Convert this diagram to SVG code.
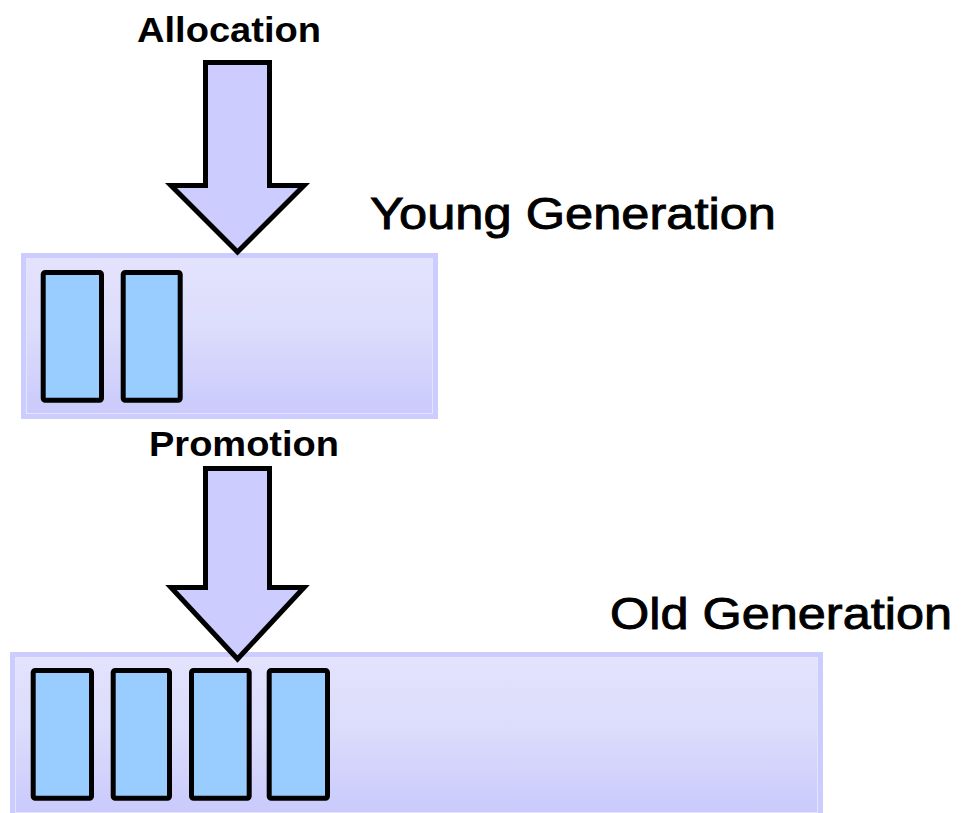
<svg xmlns="http://www.w3.org/2000/svg" width="961" height="813" viewBox="0 0 961 813">
<defs>
<linearGradient id="gen" x1="0" y1="0" x2="0" y2="1">
<stop offset="0" stop-color="#e3e3fd"/>
<stop offset="0.45" stop-color="#dcdcfc"/>
<stop offset="1" stop-color="#cacafc"/>
</linearGradient>
</defs>
<style>
.frame{fill:#ccccff;}
.inner{fill:url(#gen);stroke:#e4e4fe;stroke-width:1;}
.obj{fill:#99ccff;stroke:#000;stroke-width:5;}
.arrow{fill:#ccccff;stroke:#000;stroke-width:5;stroke-linejoin:miter;}
.lbl{font-family:"Liberation Sans",Arial,sans-serif;font-weight:bold;font-size:35px;fill:#000;}
.gen{font-family:"Liberation Sans",Arial,sans-serif;font-size:44px;fill:#000;stroke:#000;stroke-width:0.9;}
</style>
<rect width="961" height="813" fill="#ffffff"/>

<g id="young">
<rect class="frame" x="21" y="253" width="417" height="166"/>
<rect class="inner" x="26.5" y="258.5" width="406" height="155"/>
<rect class="obj" x="43.2" y="272.5" width="58.3" height="127.7" rx="2"/>
<rect class="obj" x="123.2" y="272.5" width="57" height="127.7" rx="2"/>
<text class="gen" x="370" y="229" textLength="406" lengthAdjust="spacingAndGlyphs">Young Generation</text>
</g>

<g id="old">
<rect class="frame" x="10" y="652" width="813" height="161"/>
<rect class="inner" x="15.5" y="657.5" width="802" height="155"/>
<rect class="obj" x="33.2" y="670.5" width="58.3" height="127.7" rx="2"/>
<rect class="obj" x="113.2" y="670.5" width="56.3" height="127.7" rx="2"/>
<rect class="obj" x="191.5" y="670.5" width="57.7" height="127.7" rx="2"/>
<rect class="obj" x="269.2" y="670.5" width="58.3" height="127.7" rx="2"/>
<text class="gen" x="610" y="629" textLength="342" lengthAdjust="spacingAndGlyphs">Old Generation</text>
</g>

<g id="connectors">
<g id="allocation">
<polygon class="arrow" points="205.5,62.5 269.5,62.5 269.5,185.5 304,185.5 237.5,252 171,185.5 205.5,185.5"/>
<text class="lbl" x="137" y="42" textLength="184" lengthAdjust="spacingAndGlyphs">Allocation</text>
</g>
<g id="promotion">
<polygon class="arrow" points="205.5,468.5 269.5,468.5 269.5,587.5 304,587.5 237.5,659 171,587.5 205.5,587.5"/>
<text class="lbl" x="149" y="456" textLength="190" lengthAdjust="spacingAndGlyphs">Promotion</text>
</g>
</g>
</svg>
